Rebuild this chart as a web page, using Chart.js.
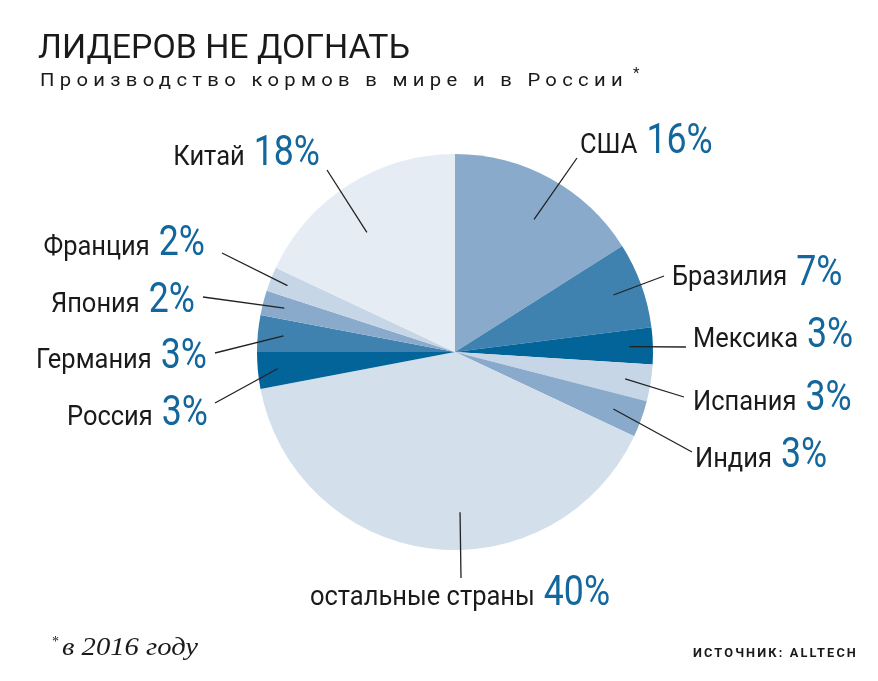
<!DOCTYPE html>
<html>
<head>
<meta charset="utf-8">
<script src="https://cdn.jsdelivr.net/npm/chart.js@4/dist/chart.umd.min.js"></script>
<style>
	html, body { margin: 0; padding: 0; background: #fff; }
	canvas { display: block; }
</style>
</head>
<body>
<canvas id="pie" width="878" height="681"></canvas>
<script>
// данные
var countries = ["США", "Бразилия", "Мексика", "Испания", "Индия", "остальные страны", "Россия", "Германия", "Япония", "Франция", "Китай"];
var shares = [16, 7, 3, 3, 3, 40, 3, 3, 2, 2, 18];
var sliceColors = ["#8aaacb", "#3f82b0", "#03649a", "#c6d6e7", "#8aaacb", "#d3dfeb", "#03649a", "#3f82b0", "#8aaacb", "#c6d6e7", "#e5ecf4"];

// подписи: где стоит текст и куда уходит выноска (shift - поворот от середины сектора, в градусах)
var labelLayout = [
	{ x: 580, y: 153, align: "left", lx: 577, ly: 158, depth: 0.78, shift: 2 },
	{ x: 672, y: 285, align: "left", lx: 664, ly: 276, depth: 0.85, shift: 0 },
	{ x: 693, y: 347, align: "left", lx: 686, ly: 347, depth: 0.88, shift: 0 },
	{ x: 693, y: 410, align: "left", lx: 684, ly: 397, depth: 0.87, shift: 0 },
	{ x: 695, y: 467, align: "left", lx: 692, ly: 452, depth: 0.85, shift: 0 },
	{ x: 460, y: 605, align: "center", lx: 461, ly: 578, depth: 0.81, shift: -9 },
	{ x: 208, y: 425, align: "right", lx: 215, ly: 403, depth: 0.90, shift: 0 },
	{ x: 207, y: 368, align: "right", lx: 215, ly: 353, depth: 0.87, shift: 0 },
	{ x: 195, y: 312, align: "right", lx: 203, ly: 297, depth: 0.89, shift: 0 },
	{ x: 205, y: 255, align: "right", lx: 222, ly: 253, depth: 0.91, shift: 0 },
	{ x: 320, y: 165, align: "right", lx: 327, ly: 170, depth: 0.75, shift: -4 }
];

var blue = "#13679c";

function measure(ctx, s, font, spacing) {
	ctx.save();
	ctx.font = font;
	ctx.letterSpacing = spacing || "0px";
	var w = ctx.measureText(s).width;
	ctx.restore();
	return w;
}

// текст со сжатием по горизонтали
function txt(ctx, s, x, y, font, color, sx, spacing) {
	ctx.save();
	ctx.font = font;
	ctx.letterSpacing = spacing || "0px";
	ctx.fillStyle = color;
	ctx.textAlign = "left";
	ctx.textBaseline = "alphabetic";
	ctx.translate(x, y);
	ctx.scale(sx, 1);
	ctx.fillText(s, 0, 0);
	ctx.restore();
}

function fitTxt(ctx, s, x, y, font, color, width, spacing) {
	var sx = width / measure(ctx, s, font, spacing);
	txt(ctx, s, x, y, font, color, sx, spacing);
}

var nameFont = "28px Roboto";
var pctFont = "42px Roboto";
var nameSx = 0.91;
var pctSx = 0.85;

var labelsPlugin = {
	id: "labels",
	afterDraw: function (chart) {
		var ctx = chart.ctx;
		var arcs = chart.getDatasetMeta(0).data;

		// заголовок
		fitTxt(ctx, "ЛИДЕРОВ НЕ ДОГНАТЬ", 38, 58, "34px Roboto", "#1a1a1a", 372);
		fitTxt(ctx, "Производство кормов в мире и в России", 40, 86, "19px Roboto", "#1a1a1a", 588, "5px");
		txt(ctx, "*", 633, 78, "15px Roboto", "#1a1a1a", 1);

		// выноски и подписи
		arcs.forEach(function (arc, i) {
			var L = labelLayout[i];
			var p = arc.getProps(["x", "y", "startAngle", "endAngle", "outerRadius"], true);
			var mid = (p.startAngle + p.endAngle) / 2 + L.shift * Math.PI / 180;
			var r = p.outerRadius * L.depth;
			var ix = p.x + Math.cos(mid) * r;
			var iy = p.y + Math.sin(mid) * r;

			ctx.save();
			ctx.strokeStyle = "#222";
			ctx.lineWidth = 1.3;
			ctx.beginPath();
			ctx.moveTo(ix, iy);
			ctx.lineTo(L.lx, L.ly);
			ctx.stroke();
			ctx.restore();

			var name = countries[i];
			var pct = shares[i] + "%";
			var wn = measure(ctx, name, nameFont) * nameSx;
			var wp = measure(ctx, pct, pctFont) * pctSx;
			var gap = 9;
			var total = wn + gap + wp;
			var left = L.x;
			if (L.align === "right") left = L.x - total;
			if (L.align === "center") left = L.x - total / 2;
			txt(ctx, name, left, L.y, nameFont, "#1a1a1a", nameSx);
			txt(ctx, pct, left + wn + gap, L.y, pctFont, blue, pctSx);
		});

		// сноска и источник
		txt(ctx, "*", 52, 646, "14px 'Liberation Serif'", "#1a1a1a", 1);
		fitTxt(ctx, "в 2016 году", 62, 655, "italic 25px 'Liberation Serif'", "#1a1a1a", 136);
		fitTxt(ctx, "ИСТОЧНИК: ALLTECH", 693, 657, "bold 12px Roboto", "#1a1a1a", 165, "2px");
	}
};

var ctx1 = document.getElementById("pie");

var chart1 = new Chart(ctx1, {
	type: "pie",
	data: {
		labels: countries,
		datasets: [
			{
				data: shares,
				backgroundColor: sliceColors,
				borderWidth: 0
			}
		]
	},
	options: {
		responsive: false,
		animation: false,
		layout: {
			padding: { left: 257, right: 225, top: 154, bottom: 131 }
		},
		plugins: {
			legend: { display: false },
			tooltip: { enabled: false },
			title: { display: false }
		}
	},
	plugins: [labelsPlugin]
});
</script>
</body>
</html>
